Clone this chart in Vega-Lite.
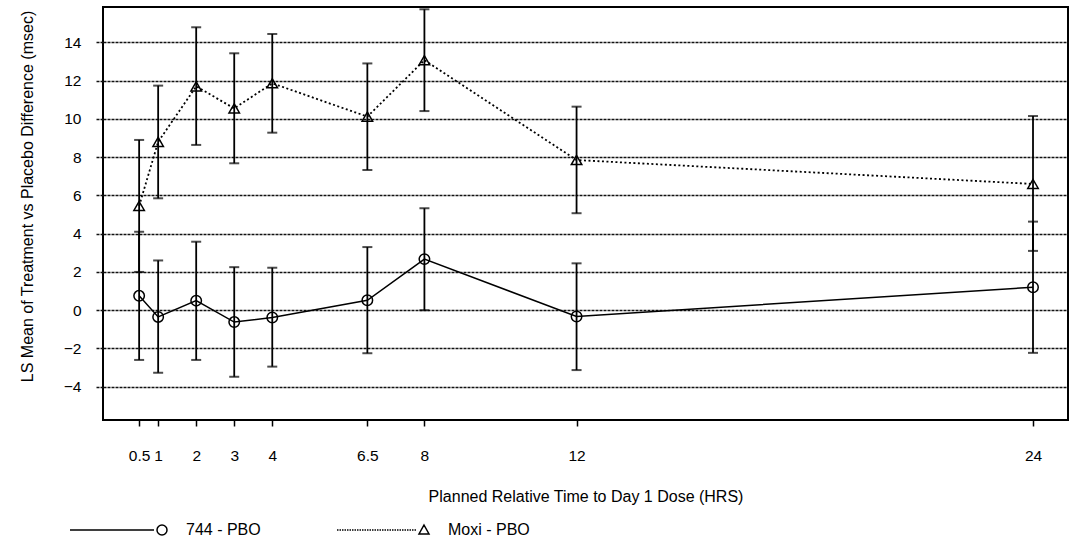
{
  "$schema": "https://vega.github.io/schema/vega-lite/v6.json",
  "width": 965,
  "height": 413,
  "autosize": "none",
  "padding": {"left": 103, "top": 7, "right": 10, "bottom": 134},
  "background": "white",
  "config": {
    "font": "Liberation Sans",
    "view": {"stroke": "black", "strokeWidth": 2},
    "axis": {"labelColor": "black", "titleColor": "black", "labelFont": "Liberation Sans", "titleFont": "Liberation Sans", "titleFontWeight": "normal"}
  },
  "data": {
    "values": [
      {"t": 0.5, "series": "744 - PBO", "mean": 0.75, "lo": -2.6, "hi": 4.1},
      {"t": 1, "series": "744 - PBO", "mean": -0.35, "lo": -3.27, "hi": 2.6},
      {"t": 2, "series": "744 - PBO", "mean": 0.5, "lo": -2.6, "hi": 3.58},
      {"t": 3, "series": "744 - PBO", "mean": -0.62, "lo": -3.48, "hi": 2.25},
      {"t": 4, "series": "744 - PBO", "mean": -0.38, "lo": -2.95, "hi": 2.22},
      {"t": 6.5, "series": "744 - PBO", "mean": 0.52, "lo": -2.25, "hi": 3.3},
      {"t": 8, "series": "744 - PBO", "mean": 2.67, "lo": 0.0, "hi": 5.33},
      {"t": 12, "series": "744 - PBO", "mean": -0.33, "lo": -3.13, "hi": 2.45},
      {"t": 24, "series": "744 - PBO", "mean": 1.2, "lo": -2.23, "hi": 4.63},
      {"t": 0.5, "series": "Moxi - PBO", "mean": 5.45, "lo": 2.0, "hi": 8.9},
      {"t": 1, "series": "Moxi - PBO", "mean": 8.8, "lo": 5.85, "hi": 11.74},
      {"t": 2, "series": "Moxi - PBO", "mean": 11.7, "lo": 8.64, "hi": 14.79},
      {"t": 3, "series": "Moxi - PBO", "mean": 10.55, "lo": 7.68, "hi": 13.43},
      {"t": 4, "series": "Moxi - PBO", "mean": 11.86, "lo": 9.28, "hi": 14.44},
      {"t": 6.5, "series": "Moxi - PBO", "mean": 10.12, "lo": 7.33, "hi": 12.9},
      {"t": 8, "series": "Moxi - PBO", "mean": 13.07, "lo": 10.41, "hi": 15.73},
      {"t": 12, "series": "Moxi - PBO", "mean": 7.85, "lo": 5.07, "hi": 10.64},
      {"t": 24, "series": "Moxi - PBO", "mean": 6.6, "lo": 3.1, "hi": 10.15}
    ]
  },
  "resolve": {"scale": {"shape": "independent"}},
  "encoding": {
    "x": {
      "field": "t", "type": "quantitative",
      "scale": {"domain": [-0.45, 24.92], "nice": false, "zero": false},
      "axis": {
        "title": "Planned Relative Time to Day 1 Dose (HRS)",
        "values": [0.5, 1, 2, 3, 4, 6.5, 8, 12, 24],
        "labelExpr": "datum.value",
        "grid": false, "domain": false,
        "tickSize": 6, "tickWidth": 1.5, "tickColor": "black",
        "labelFontSize": 15.5, "labelPadding": 22, "labelOverlap": false, "labelFlush": false, "labelBound": false,
        "titleFontSize": 16, "titleY": 76, "titleBaseline": "middle"
      }
    }
  },
  "layer": [
    {
      "mark": {"type": "rule", "color": "black", "strokeWidth": 1.8},
      "encoding": {
        "y": {
          "field": "lo", "type": "quantitative",
          "scale": {"domain": [-5.74, 15.85], "nice": false, "zero": false},
          "axis": {
            "title": "LS Mean of Treatment vs Placebo Difference (msec)",
            "values": [-4, -2, 0, 2, 4, 6, 8, 10, 12, 14],
            "domain": false,
            "grid": true, "gridColor": "#111", "gridWidth": 1.5, "gridDash": [3, 1],
            "tickSize": 8, "tickWidth": 1.5, "tickColor": "#111", "tickDash": [3, 1],
            "labelFontSize": 15.5, "labelPadding": 14,
            "titleFontSize": 16, "titleX": -76, "titleY": 189, "titleAlign": "center", "titleBaseline": "middle"
          }
        },
        "y2": {"field": "hi"}
      }
    },
    {
      "mark": {"type": "tick", "orient": "horizontal", "color": "black", "size": 10, "thickness": 2},
      "encoding": {"y": {"field": "lo", "type": "quantitative"}}
    },
    {
      "mark": {"type": "tick", "orient": "horizontal", "color": "black", "size": 10, "thickness": 2},
      "encoding": {"y": {"field": "hi", "type": "quantitative"}}
    },
    {
      "transform": [{"filter": "datum.series === '744 - PBO'"}],
      "mark": {"type": "line", "color": "black", "strokeWidth": 1.5},
      "encoding": {"y": {"field": "mean", "type": "quantitative"}}
    },
    {
      "transform": [{"filter": "datum.series === 'Moxi - PBO'"}],
      "mark": {"type": "line", "color": "black", "strokeWidth": 1.8, "strokeDash": [2, 2.5]},
      "encoding": {"y": {"field": "mean", "type": "quantitative"}}
    },
    {
      "mark": {"type": "point", "filled": false, "stroke": "black", "strokeWidth": 1.5, "size": 110, "opacity": 1},
      "encoding": {
        "y": {"field": "mean", "type": "quantitative"},
        "shape": {
          "field": "series", "type": "nominal",
          "scale": {"domain": ["744 - PBO", "Moxi - PBO"], "range": ["circle", "triangle-up"]},
          "legend": null
        }
      }
    },
    {
      "transform": [{"filter": "false"}],
      "mark": {"type": "point", "filled": false, "stroke": "black", "strokeWidth": 1.5, "opacity": 1},
      "encoding": {
        "y": {"field": "mean", "type": "quantitative"},
        "shape": {
          "field": "series", "type": "nominal",
          "scale": {"domain": ["744 - PBO", "Moxi - PBO"], "range": [
            "M-18.4,0H-1.6M1,0C1,0.552,0.552,1,0,1C-0.552,1,-1,0.552,-1,0C-1,-0.552,-0.552,-1,0,-1C0.552,-1,1,-0.552,1,0Z",
            "M-17.4,0h0.3M-16.9,0h0.3M-16.4,0h0.3M-15.9,0h0.3M-15.4,0h0.3M-14.9,0h0.3M-14.4,0h0.3M-13.9,0h0.3M-13.4,0h0.3M-12.9,0h0.3M-12.4,0h0.3M-11.9,0h0.3M-11.4,0h0.3M-10.9,0h0.3M-10.4,0h0.3M-9.9,0h0.3M-9.4,0h0.3M-8.9,0h0.3M-8.4,0h0.3M-7.9,0h0.3M-7.4,0h0.3M-6.9,0h0.3M-6.4,0h0.3M-5.9,0h0.3M-5.4,0h0.3M-4.9,0h0.3M-4.4,0h0.3M-3.9,0h0.3M-3.4,0h0.3M-2.9,0h0.3M-2.4,0h0.3M-1.9,0h0.3M0,-1L1,0.8L-1,0.8Z"
          ]},
          "legend": {
            "title": null,
            "orient": "none",
            "legendX": 51,
            "legendY": 515,
            "direction": "horizontal",
            "padding": 0,
            "columnPadding": 73,
            "labelFont": "Liberation Sans",
            "labelFontSize": 16,
            "labelColor": "black",
            "labelOffset": 16,
            "symbolSize": 100,
            "symbolStrokeWidth": 1.5,
            "symbolStrokeColor": "black",
            "symbolFillColor": "transparent",
            "symbolOpacity": 1
          }
        }
      }
    }
  ]
}
